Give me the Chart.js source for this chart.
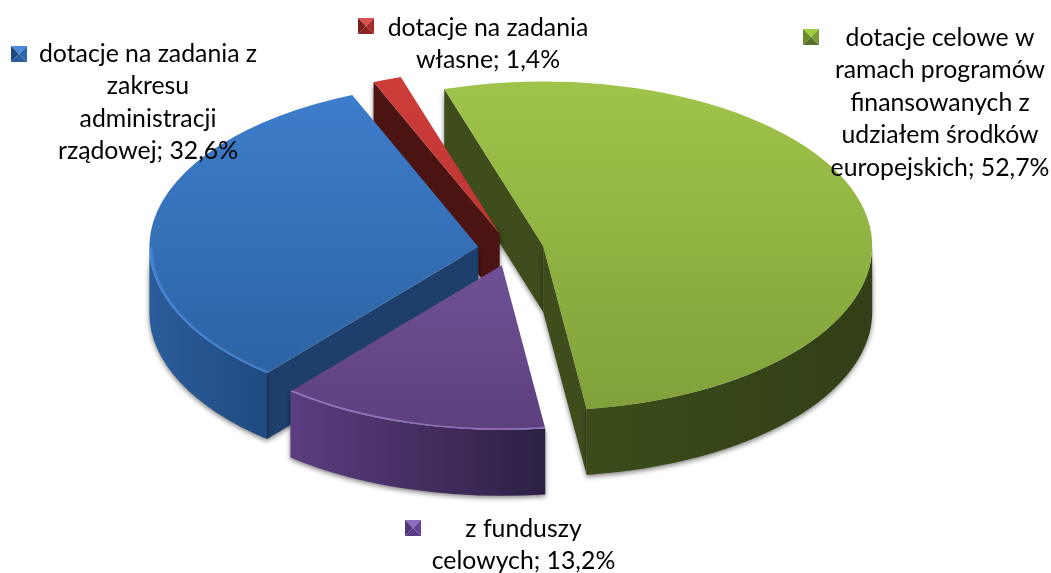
<!DOCTYPE html>
<html>
<head>
<meta charset="utf-8">
<style>
  html, body { margin: 0; padding: 0; background: #fff; }
  canvas { display: block; }
</style>
<script src="https://cdn.jsdelivr.net/npm/chart.js@4"></script>
</head>
<body>
<canvas id="chart" width="1051" height="573"></canvas>
<script>
// ---------- DATA ----------
const categories = [
  'dotacje celowe w\nramach programów\nfinansowanych z\nudziałem środków\neuropejskich',
  'z funduszy\ncelowych',
  'dotacje na zadania z\nzakresu\nadministracji\nrządowej',
  'dotacje na zadania\nwłasne'
];
const shares = [52.7, 13.2, 32.6, 1.4];

// ---------- LOOK ----------
const PIE_X = 511, PIE_Y = 249.5, RADIUS = 329, EXPLODE = 33, TILT = 0.5, DEPTH = 66;
const topColors = [['#9fc44a', '#7f9f39'], ['#8460ae', '#5b3e7c'], ['#3e7ecd', '#2a5e9c'], ['#cf3d3a', '#a92d2b']];
const rimColors = [null, '#9273bd', '#4483d2', null];
const sideColors = [['#3b4c19', '#323f17'], ['#5c3d80', '#2d2044'], ['#2b5d9c', '#1f4a7f'], ['#4e1514', '#4e1514']];
const cutColors = ['#3e4d1b', '#2d2044', '#1e3f6c', '#4b1413'];
const markerColors = [
  ['#9fce3f', '#6c8a2c', '#7d9b34', '#56702a'],
  ['#8d6cc0', '#4f3478', '#664296', '#5a3a88'],
  ['#4a8bdc', '#1f4a80', '#2c66ac', '#2a5c9c'],
  ['#d9504c', '#7c1f1e', '#a82c2a', '#8c2422']
];
const drawOrder = [0, 3, 2, 1];
const labelBoxes = [
  { x: 940, y: 46, mx: 803, my: 29 },
  { x: 523.5, y: 537, mx: 405, my: 520 },
  { x: 148, y: 62, mx: 11, my: 46 },
  { x: 488, y: 36, mx: 358, my: 18 }
];

const canvas = document.getElementById('chart');
const ctx0 = canvas.getContext('2d');

function topGradient(c) {
  // gradient runs in the untilted space the arcs are drawn in
  const g = ctx0.createLinearGradient(0, PIE_Y + (85 - PIE_Y) / TILT, 0, PIE_Y + (430 - PIE_Y) / TILT);
  g.addColorStop(0, c[0]);
  g.addColorStop(1, c[1]);
  return g;
}

function sideGradient(ctx, x0, x1, c) {
  const g = ctx.createLinearGradient(x0, 0, x1, 0);
  g.addColorStop(0, c[0]);
  g.addColorStop(1, c[1]);
  return g;
}

// walls are drawn around the arc's own centre, the context is already moved out
function drawWalls(ctx, arc, i) {
  const px = arc.x, py = arc.y, r = arc.outerRadius;
  const drop = DEPTH / TILT;

  ctx.save();
  ctx.shadowColor = 'rgba(0,0,0,0.5)';
  ctx.shadowBlur = 5;
  ctx.shadowOffsetX = 0;
  ctx.shadowOffsetY = 2;

  // cut faces, only those turned towards the viewer
  const cut = (a) => {
    ctx.beginPath();
    ctx.moveTo(px, py);
    ctx.lineTo(px + Math.cos(a) * r, py + Math.sin(a) * r);
    ctx.lineTo(px + Math.cos(a) * r, py + Math.sin(a) * r + drop);
    ctx.lineTo(px, py + drop);
    ctx.closePath();
    ctx.fillStyle = cutColors[i];
    ctx.fill();
  };
  if (Math.cos(arc.startAngle) < 0) cut(arc.startAngle);
  if (Math.cos(arc.endAngle) > 0) cut(arc.endAngle);

  // outer face
  const a = Math.max(arc.startAngle, 0);
  const b = Math.min(arc.endAngle, Math.PI);
  if (b > a) {
    ctx.beginPath();
    ctx.arc(px, py, r, a, b);
    ctx.arc(px, py + drop, r, b, a, true);
    ctx.closePath();
    const xs = [Math.cos(a), Math.cos(b)].map(v => px + v * r);
    ctx.fillStyle = sideGradient(ctx, Math.min(...xs), Math.max(...xs), sideColors[i]);
    ctx.fill();
  }
  ctx.restore();
}

const pie3d = {
  id: 'pie3d',
  beforeDatasetsDraw(chart) {
    const ctx = chart.ctx;
    const meta = chart.getDatasetMeta(0);
    ctx.save();
    ctx.translate(0, PIE_Y);
    ctx.scale(1, TILT);
    ctx.translate(0, -PIE_Y);
    drawOrder.forEach(i => {
      const arc = meta.data[i];
      const mid = (arc.startAngle + arc.endAngle) / 2;
      ctx.save();
      ctx.translate(Math.cos(mid) * EXPLODE, Math.sin(mid) * EXPLODE);
      drawWalls(ctx, arc, i);
      arc.draw(ctx);
      // soft bevel along the front rim
      const a = Math.max(arc.startAngle, 0);
      const b = Math.min(arc.endAngle, Math.PI);
      if (rimColors[i] && b > a) {
        ctx.beginPath();
        ctx.arc(arc.x, arc.y, arc.outerRadius - 1.5, a, b);
        ctx.strokeStyle = rimColors[i];
        ctx.lineWidth = 3;
        ctx.stroke();
      }
      ctx.restore();
    });
    ctx.restore();
    return false;
  },
  afterDraw(chart) {
    const ctx = chart.ctx;
    ctx.save();
    categories.forEach((cat, i) => {
      const box = labelBoxes[i];
      const lines = (cat + '; ' + shares[i].toFixed(1).replace('.', ',') + '%').split('\n');
      ctx.font = '24.8px Lato';
      ctx.fillStyle = '#000';
      ctx.textAlign = 'center';
      ctx.textBaseline = 'alphabetic';
      lines.forEach((t, n) => ctx.fillText(t, box.x, box.y + n * 32.4));
      drawMarker(ctx, box.mx, box.my, markerColors[i]);
    });
    ctx.restore();
  }
};

function drawMarker(ctx, x, y, c) {
  const s = 16, m = s / 2;
  const tri = (pts, col) => {
    ctx.beginPath();
    ctx.moveTo(x + pts[0], y + pts[1]);
    ctx.lineTo(x + pts[2], y + pts[3]);
    ctx.lineTo(x + m, y + m);
    ctx.closePath();
    ctx.fillStyle = col;
    ctx.fill();
  };
  tri([0, 0, s, 0], c[0]);
  tri([0, 0, 0, s], c[1]);
  tri([s, 0, s, s], c[2]);
  tri([0, s, s, s], c[3]);
}

new Chart(canvas, {
  type: 'pie',
  data: {
    labels: categories,
    datasets: [{
      data: shares,
      backgroundColor: topColors.map(topGradient),
      borderWidth: 0,
      radius: RADIUS
    }]
  },
  options: {
    responsive: false,
    animation: false,
    rotation: -17.5,
    layout: { padding: { right: 1051 - 2 * PIE_X, bottom: 573 - 2 * PIE_Y } },
    plugins: { legend: { display: false }, tooltip: { enabled: false } }
  },
  plugins: [pie3d]
});
</script>
</body>
</html>
